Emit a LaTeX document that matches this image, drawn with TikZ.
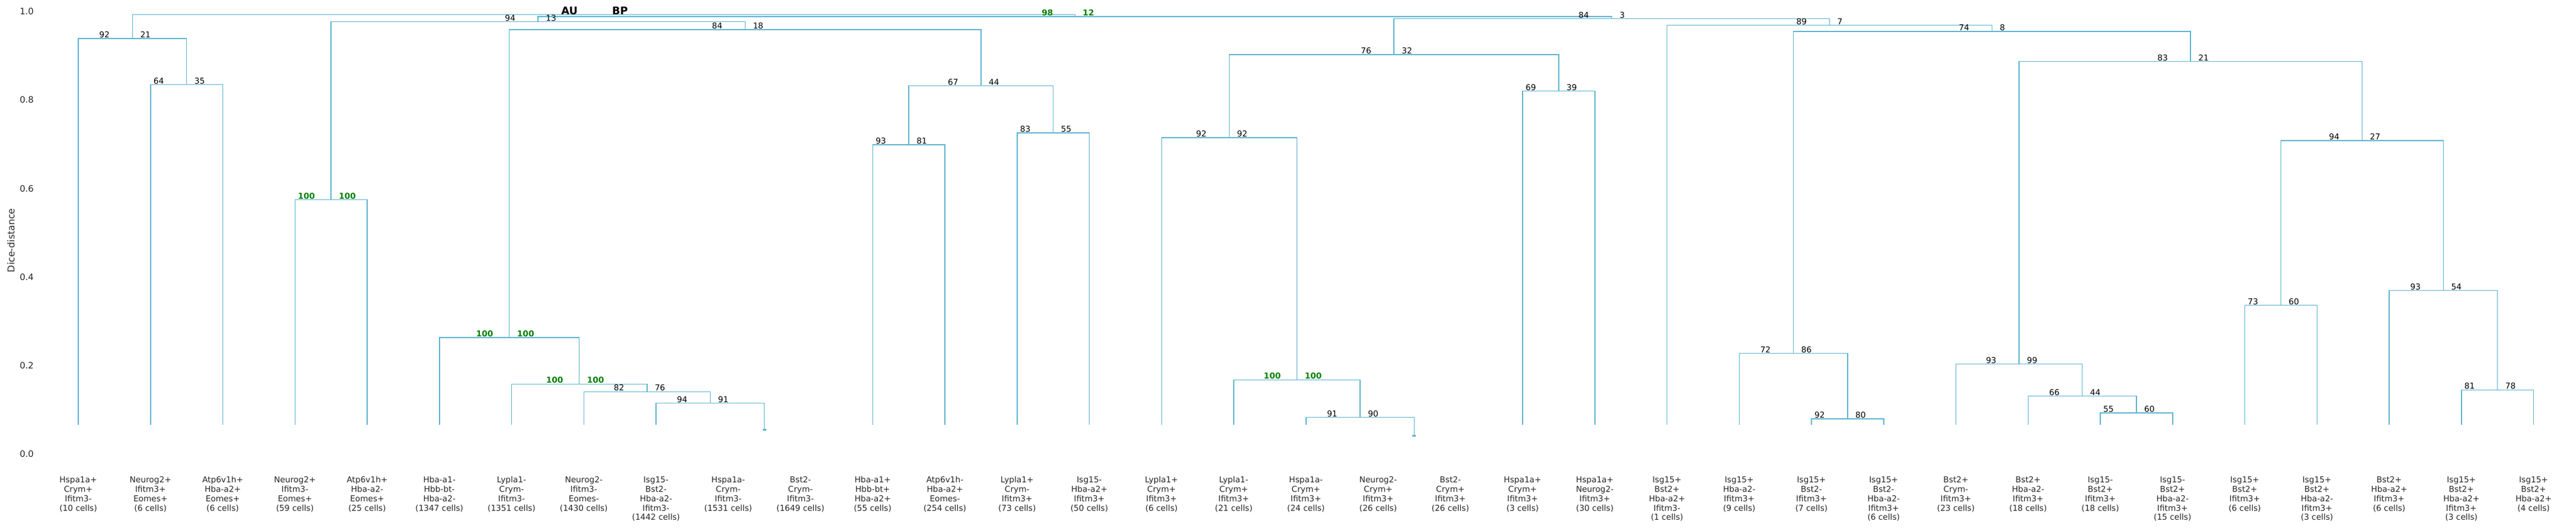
\documentclass[tikz,border=0pt]{standalone}
\usepackage{fontspec}
\setmainfont{DejaVu Sans}
\usepackage{tikz}
\usetikzlibrary{calc}
\definecolor{branch}{RGB}{92,180,208}
\definecolor{sig}{RGB}{0,128,0}

\begin{document}
\begin{tikzpicture}[x=0.01cm, y=7.45cm,
    link/.style={branch, line width=0.43pt},
    num/.style={anchor=base west, inner sep=0pt, yshift=0.4pt, font=\fontsize{3.9}{4.5}\selectfont},
    au/.style={num, xshift=-0.565cm},
    bp/.style={num, xshift=0.125cm},
    hi/.style={text=sig, font=\fontsize{3.9}{4.5}\selectfont\bfseries},
    rootlab/.style={anchor=base west, inner sep=0pt, font=\fontsize{5}{6}\selectfont\bfseries},
    leaf/.style={anchor=north, align=center, inner sep=0pt, text=black!85, font=\fontsize{3.9}{4.54}\selectfont},
    ticklab/.style={anchor=east, inner sep=0pt, text=black!85, font=\fontsize{4.2}{5}\selectfont}]
  \useasboundingbox (0,-0.16711) rectangle (4343,1.02617);

  % leaves
  \foreach \i in {0,...,34}
    \coordinate (l\i) at ({132+121.75*\i},0.066);

  % merges
  \coordinate (A) at (314.625,0.8348);
  \coordinate (B) at (223.31,0.9393);
  \coordinate (C) at (558.125,0.5745);
  \coordinate (M9) at (1288.625,0.054);
  \coordinate (D) at (1197.31,0.1146);
  \coordinate (E) at (1090.78,0.1403);
  \coordinate (F) at (976.64,0.1578);
  \coordinate (G) at (858.70,0.263);
  \coordinate (I1) at (1532.125,0.6986);
  \coordinate (I2) at (1775.625,0.7256);
  \coordinate (I) at (1653.875,0.8321);
  \coordinate (H) at (1256.29,0.9589);
  \coordinate (J) at (907.21,0.9771);
  \coordinate (M18) at (2384.375,0.0405);
  \coordinate (Z1) at (2293.06,0.0823);
  \coordinate (Z) at (2186.53,0.1672);
  \coordinate (Y) at (2072.39,0.7148);
  \coordinate (X2) at (2627.875,0.820);
  \coordinate (X) at (2350.13,0.9029);
  \coordinate (S1) at (3114.875,0.0789);
  \coordinate (S2) at (3023.56,0.2272);
  \coordinate (S) at (3601.875,0.0924);
  \coordinate (R) at (3510.56,0.1308);
  \coordinate (Q) at (3404.03,0.203);
  \coordinate (U) at (3845.375,0.3358);
  \coordinate (W) at (4210.625,0.1443);
  \coordinate (V) at (4119.31,0.3695);
  \coordinate (T) at (3982.34,0.708);
  \coordinate (P) at (3693.19,0.8874);
  \coordinate (O) at (3358.38,0.9548);
  \coordinate (N) at (3084.44,0.969);
  \coordinate (M) at (2717.28,0.9838);
  \coordinate (K) at (1812.25,0.9885);
  \coordinate (L) at (1017.78,0.9933);

  \foreach \p/\ca/\cb in {A/l1/l2, B/l0/A, C/l3/l4, D/l8/M9, E/l7/D, F/l6/E, G/l5/F,
      I1/l11/l12, I2/l13/l14, I/I1/I2, H/G/I, J/C/H, Z1/l17/M18, Z/l16/Z1, Y/l15/Z,
      X2/l20/l21, X/Y/X2, S1/l24/l25, S2/l23/S1, S/l28/l29, R/l27/S, Q/l26/R,
      U/l30/l31, W/l33/l34, V/l32/W, T/U/V, P/Q/T, O/S2/P, N/l22/O, M/X/N,
      K/J/M, L/B/K}
    \draw[link] (\ca) |- (\p) -| (\cb);
  \draw[link, line width=0.8pt] ([xshift=-0.03cm]M9) -- ([xshift=0.03cm]M9);
  \draw[link, line width=0.8pt] ([xshift=-0.03cm]M18) -- ([xshift=0.03cm]M18);

  % AU / BP values
  \foreach \p/\ca/\cb in {A/64/35, B/92/21, D/94/91, E/82/76, I1/93/81, I2/83/55,
      I/67/44, H/84/18, J/94/13, Z1/91/90, Y/92/92, X2/69/39, X/76/32, S1/92/80,
      S2/72/86, S/55/60, R/66/44, Q/93/99, U/73/60, W/81/78, V/93/54, T/94/27,
      P/83/21, O/74/8, N/89/7, M/84/3} {
    \node[au] (au\p) at (\p) {\ca};
    \node[bp] (bp\p) at (\p) {\cb};
  }
  \foreach \p/\ca/\cb in {C/100/100, F/100/100, G/100/100, Z/100/100, K/98/12} {
    \node[au, hi] (au\p) at (\p) {\ca};
    \node[bp, hi] (bp\p) at (\p) {\cb};
  }
  \node[rootlab] (auL) at ([xshift=-0.72cm]L) {AU};
  \node[rootlab] (bpL) at ([xshift=0.137cm]L) {BP};

  % axis
  \foreach \t [count=\k] in {0.0,0.2,0.4,0.6,0.8,1.0}
    \node[ticklab] (y\k) at (57.5,\t) {\t};
  \node[rotate=90, inner sep=0pt, text=black!85, font=\fontsize{4.5}{5}\selectfont] (ylab) at (18.5,0.4826) {Dice-distance};

  % leaf labels
  \foreach \i/\txt in {
      0/{Hspa1a+\\Crym+\\Ifitm3-\\(10 cells)},
      1/{Neurog2+\\Ifitm3+\\Eomes+\\(6 cells)},
      2/{Atp6v1h+\\Hba-a2+\\Eomes+\\(6 cells)},
      3/{Neurog2+\\Ifitm3-\\Eomes+\\(59 cells)},
      4/{Atp6v1h+\\Hba-a2-\\Eomes+\\(25 cells)},
      5/{Hba-a1-\\Hbb-bt-\\Hba-a2-\\(1347 cells)},
      6/{Lypla1-\\Crym-\\Ifitm3-\\(1351 cells)},
      7/{Neurog2-\\Ifitm3-\\Eomes-\\(1430 cells)},
      8/{Isg15-\\Bst2-\\Hba-a2-\\Ifitm3-\\(1442 cells)},
      9/{Hspa1a-\\Crym-\\Ifitm3-\\(1531 cells)},
      10/{Bst2-\\Crym-\\Ifitm3-\\(1649 cells)},
      11/{Hba-a1+\\Hbb-bt+\\Hba-a2+\\(55 cells)},
      12/{Atp6v1h-\\Hba-a2+\\Eomes-\\(254 cells)},
      13/{Lypla1+\\Crym-\\Ifitm3+\\(73 cells)},
      14/{Isg15-\\Hba-a2+\\Ifitm3+\\(50 cells)},
      15/{Lypla1+\\Crym+\\Ifitm3+\\(6 cells)},
      16/{Lypla1-\\Crym+\\Ifitm3+\\(21 cells)},
      17/{Hspa1a-\\Crym+\\Ifitm3+\\(24 cells)},
      18/{Neurog2-\\Crym+\\Ifitm3+\\(26 cells)},
      19/{Bst2-\\Crym+\\Ifitm3+\\(26 cells)},
      20/{Hspa1a+\\Crym+\\Ifitm3+\\(3 cells)},
      21/{Hspa1a+\\Neurog2-\\Ifitm3+\\(30 cells)},
      22/{Isg15+\\Bst2+\\Hba-a2+\\Ifitm3-\\(1 cells)},
      23/{Isg15+\\Hba-a2-\\Ifitm3+\\(9 cells)},
      24/{Isg15+\\Bst2-\\Ifitm3+\\(7 cells)},
      25/{Isg15+\\Bst2-\\Hba-a2-\\Ifitm3+\\(6 cells)},
      26/{Bst2+\\Crym-\\Ifitm3+\\(23 cells)},
      27/{Bst2+\\Hba-a2-\\Ifitm3+\\(18 cells)},
      28/{Isg15-\\Bst2+\\Ifitm3+\\(18 cells)},
      29/{Isg15-\\Bst2+\\Hba-a2-\\Ifitm3+\\(15 cells)},
      30/{Isg15+\\Bst2+\\Ifitm3+\\(6 cells)},
      31/{Isg15+\\Bst2+\\Hba-a2-\\Ifitm3+\\(3 cells)},
      32/{Bst2+\\Hba-a2+\\Ifitm3+\\(6 cells)},
      33/{Isg15+\\Bst2+\\Hba-a2+\\Ifitm3+\\(3 cells)},
      34/{Isg15+\\Bst2+\\Hba-a2+\\(4 cells)}}
    \node[leaf] (t\i) at ({132+121.75*\i},-0.0503) {\txt};
\end{tikzpicture}
\end{document}
